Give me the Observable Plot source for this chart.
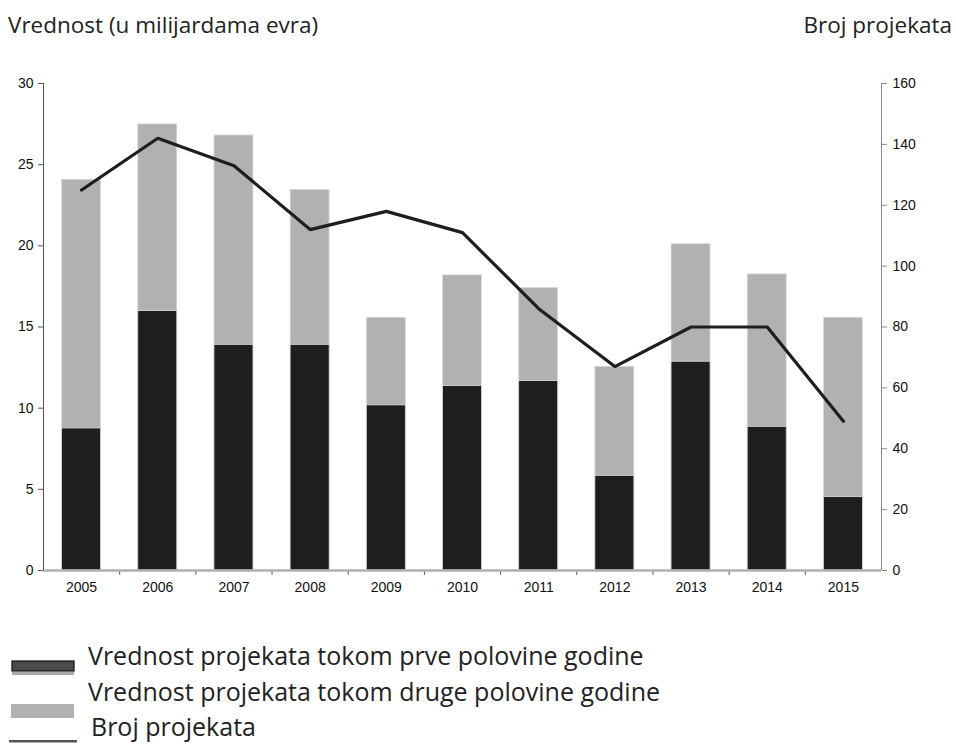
<!DOCTYPE html>
<html><head><meta charset="utf-8">
<script src="https://cdn.jsdelivr.net/npm/d3@7"></script>
<script src="https://cdn.jsdelivr.net/npm/@observablehq/plot@0.6"></script>
<style>
body{margin:0;background:#fff;width:956px;height:744px;overflow:hidden;position:relative;font-family:"Open Sans",sans-serif;color:#222}
#chart{position:absolute;top:50px;left:0}
#overlay{position:absolute;top:0;left:0}
</style></head>
<body>
<div id="chart"></div>
<svg id="overlay" width="956" height="744" xmlns="http://www.w3.org/2000/svg"></svg>
<script>
const years = [2005,2006,2007,2008,2009,2010,2011,2012,2013,2014,2015];
const firstHalf = [8.75,15.98,13.9,13.9,10.17,11.36,11.67,5.83,12.86,8.85,4.52];
const totalValue = [24.07,27.48,26.8,23.45,15.57,18.18,17.4,12.55,20.1,18.24,15.57];
const projectCount = [125,142,133,112,118,111,86,67,80,80,49];
const leftTicks = [0,5,10,15,20,25,30];
const rightTicks = [0,20,40,60,80,100,120,140,160];
const leftTitle = "Vrednost (u milijardama evra)";
const rightTitle = "Broj projekata";
const legendLabels = ["Vrednost projekata tokom prve polovine godine","Vrednost projekata tokom druge polovine godine","Broj projekata"];

const dark = "#1e1e1c", grey = "#b1b1b1";
const yMax = 30, rMax = 160;
const toLeft = v => v * yMax / rMax;
const half = 0.256;

const rows = years.map((y,i)=>({year:y, first:firstHalf[i], total:totalValue[i], count:projectCount[i]}));
const bounds = d3.range(years.length+1).map(i => years[0]-0.5+i);

const plot = Plot.plot({
  width:956, height:580,
  marginLeft:43, marginRight:75, marginTop:33, marginBottom:60,
  style:{fontFamily:"'Liberation Sans',Arial,sans-serif", fontSize:"14px", color:"#000"},
  x:{type:"linear", domain:[years[0]-0.5, years[years.length-1]+0.5], axis:null},
  y:{domain:[0,yMax], axis:null},
  marks:[
    Plot.rectY(rows,{x1:d=>d.year-half, x2:d=>d.year+half, y1:0, y2:"total", fill:grey, stroke:"#dcdcdc", strokeWidth:0.8}),
    Plot.rectY(rows,{x1:d=>d.year-half, x2:d=>d.year+half, y1:0, y2:"first", fill:dark, stroke:"#dcdcdc", strokeWidth:0.8}),
    Plot.ruleX(bounds.slice(1,-1),{y1:0, y2:-0.3, stroke:"#555", strokeWidth:1}),
    Plot.ruleY([0],{stroke:"#b0b0b0", strokeWidth:2.5}),
    Plot.axisX(years,{anchor:"bottom", label:null, tickSize:0, tickPadding:12, tickFormat:d=>String(d), fontSize:14, fill:"#111"}),
    Plot.axisY(leftTicks,{anchor:"left", label:null, tickSize:5, tickPadding:5, stroke:"#555", fontSize:14, fill:"#111"}),
    Plot.ruleX([years[0]-0.5],{y1:0, y2:yMax, stroke:"#555", strokeWidth:1}),
    Plot.axisY(rightTicks.map(toLeft),{anchor:"right", label:null, tickSize:5, tickPadding:6, stroke:"#888", tickFormat:d=>String(Math.round(d*rMax/yMax)), fontSize:14, fill:"#111"}),
    Plot.ruleX([years[years.length-1]+0.5],{y1:0, y2:yMax, stroke:"#888", strokeWidth:1}),
    Plot.lineY(rows,{x:"year", y:d=>toLeft(d.count), stroke:"#1e1e1e", strokeWidth:3.2, strokeLinejoin:"miter"})
  ]
});
document.getElementById("chart").appendChild(plot);

const ov = d3.select("#overlay");
ov.append("text").attr("x",8).attr("y",33).attr("font-size",22.5).attr("fill","#222").text(leftTitle);
ov.append("text").attr("x",952).attr("y",33).attr("text-anchor","end").attr("font-size",22.5).attr("fill","#222").text(rightTitle);
// legend swatches
ov.append("rect").attr("x",12).attr("y",661).attr("width",62).attr("height",10).attr("fill","#4a4a4a").attr("stroke","#111").attr("stroke-width",1.2);
ov.append("rect").attr("x",12).attr("y",672).attr("width",62).attr("height",3).attr("fill","#aaa");
ov.append("rect").attr("x",11).attr("y",704).attr("width",63).attr("height",14).attr("fill","#b1b1b1");
ov.append("rect").attr("x",9).attr("y",740).attr("width",68).attr("height",2.5).attr("fill","#555");
const lx = [88,88,91], ly = [665,701,736];
legendLabels.forEach((t,i)=>{
  ov.append("text").attr("x",lx[i]).attr("y",ly[i]).attr("font-size",25).attr("fill","#222").text(t);
});
</script>
</body></html>
